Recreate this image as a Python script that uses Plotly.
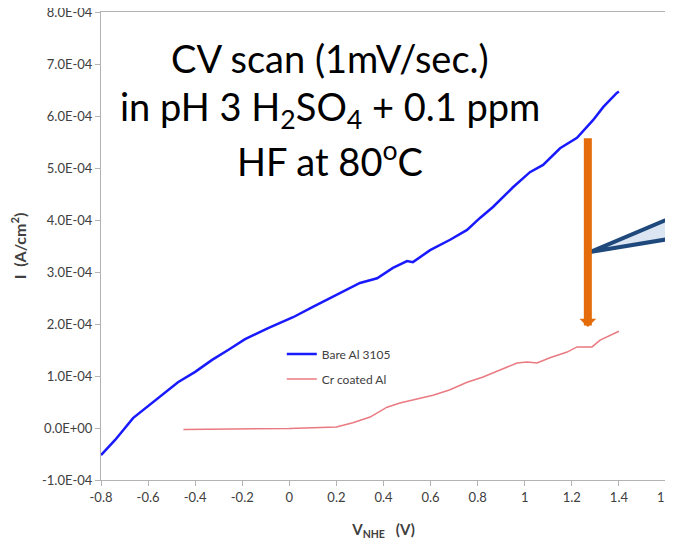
import plotly.graph_objects as go

# ---- data (current in A/cm^2, potential in V vs NHE) ----
bare_v = [-0.80, -0.74, -0.664, -0.583, -0.473, -0.40, -0.328, -0.26, -0.188, -0.09, 0.016,
          0.10, 0.203, 0.30, 0.373, 0.44, 0.50, 0.525, 0.598, 0.683, 0.755, 0.81,
          0.865, 0.95, 1.022, 1.078, 1.15, 1.222, 1.29, 1.333, 1.39, 1.40]
bare_i = [-0.52e-4, -0.23e-4, 0.19e-4, 0.48e-4, 0.88e-4, 1.08e-4, 1.31e-4, 1.50e-4, 1.71e-4, 1.92e-4, 2.13e-4,
          2.33e-4, 2.56e-4, 2.79e-4, 2.88e-4, 3.08e-4, 3.21e-4, 3.19e-4, 3.42e-4, 3.62e-4, 3.81e-4, 4.04e-4,
          4.25e-4, 4.63e-4, 4.92e-4, 5.06e-4, 5.38e-4, 5.58e-4, 5.92e-4, 6.17e-4, 6.44e-4, 6.47e-4]

cr_v = [-0.45, -0.20, 0.00, 0.20, 0.27, 0.343, 0.415, 0.47, 0.555, 0.61, 0.68,
        0.755, 0.823, 0.895, 0.967, 1.01, 1.052, 1.107, 1.18, 1.222, 1.286, 1.32, 1.39, 1.40]
cr_i = [-0.03e-4, -0.02e-4, -0.01e-4, 0.02e-4, 0.10e-4, 0.21e-4, 0.40e-4, 0.48e-4, 0.58e-4, 0.63e-4, 0.73e-4,
        0.88e-4, 0.98e-4, 1.12e-4, 1.25e-4, 1.27e-4, 1.25e-4, 1.35e-4, 1.46e-4, 1.56e-4, 1.56e-4, 1.69e-4, 1.83e-4, 1.86e-4]

series_names = ["Bare Al 3105", "Cr coated Al"]

x_tickvals = [-0.8, -0.6, -0.4, -0.2, 0, 0.2, 0.4, 0.6, 0.8, 1.0, 1.2, 1.4, 1.6]
x_ticktext = ["-0.8", "-0.6", "-0.4", "-0.2", "0", "0.2", "0.4", "0.6", "0.8", "1", "1.2", "1.4", "1.6"]
y_tickvals = [-1e-4, 0, 1e-4, 2e-4, 3e-4, 4e-4, 5e-4, 6e-4, 7e-4, 8e-4]
y_ticktext = ["-1.0E-04", "0.0E+00", "1.0E-04", "2.0E-04", "3.0E-04", "4.0E-04",
              "5.0E-04", "6.0E-04", "7.0E-04", "8.0E-04"]

title_lines = ["CV scan (1mV/sec.)",
               "in pH 3 H<sub>2</sub>SO<sub>4</sub> + 0.1 ppm",
               "HF at 80<sup>o</sup>C"]

# arrow (from bare to coated) in data units
arrow_x = 1.268
arrow_from = 5.6e-4
arrow_to = 1.94e-4

FONT = "Lato"
fig = go.Figure()
fig.add_trace(go.Scatter(x=bare_v, y=bare_i, mode="lines", name=series_names[0],
                         legendgroup="a", line=dict(color="#1a1aff", width=2.5)))
fig.add_trace(go.Scatter(x=cr_v, y=cr_i, mode="lines", name=series_names[1],
                         legendgroup="b", line=dict(color="#ea7a82", width=1.5)))

axis_col = "#b3b3b3"
fig.update_xaxes(range=[-0.8, 1.6], tickvals=x_tickvals, ticktext=x_ticktext,
                 showgrid=False, zeroline=False, showline=True, linecolor=axis_col,
                 linewidth=1, mirror=True, ticks="outside", ticklen=5, tickcolor=axis_col,
                 ticklabeloverflow="allow", automargin=False,
                 tickfont=dict(family=FONT, size=13, color="#404040"),
                 title=dict(text="<b>V<sub>NHE</sub>   (V)</b>", standoff=20,
                            font=dict(family=FONT, size=15, color="#404040")))
fig.update_yaxes(range=[-1e-4, 8e-4], tickvals=y_tickvals, ticktext=y_ticktext,
                 showgrid=False, zeroline=False, showline=True, linecolor=axis_col,
                 linewidth=1, mirror=True, ticks="outside", ticklen=5, tickcolor=axis_col,
                 ticklabeloverflow="allow", automargin=False,
                 tickfont=dict(family=FONT, size=13, color="#404040"),
                 title=dict(text="<b>I  (A/cm<sup>2</sup>)</b>", standoff=16,
                            font=dict(family=FONT, size=16, color="#404040")))

for txt, yy in zip(title_lines, [0.902, 0.792, 0.686]):
    fig.add_annotation(text=txt, xref="paper", yref="paper", x=0.405, y=yy,
                       xanchor="center", yanchor="middle", showarrow=False,
                       font=dict(family=FONT, size=38, color="#000000"))

fig.add_annotation(x=arrow_x, y=arrow_to, ax=arrow_x, ay=arrow_from,
                   xref="x", yref="y", axref="x", ayref="y", text="",
                   showarrow=True, arrowhead=1, arrowsize=0.35, arrowwidth=8,
                   arrowcolor="#e46c0a")

# callout wedge
fig.add_shape(type="path", xref="paper", yref="paper",
              path="M 0.8655,0.487 L 1.03,0.571 L 1.03,0.520 Z",
              fillcolor="#dce6f2", line=dict(color="#1f497d", width=4), layer="above")

fig.update_layout(
    width=673, height=544,
    margin=dict(l=93, r=15, t=4, b=72),
    paper_bgcolor="white", plot_bgcolor="white",
    showlegend=True,
    legend=dict(x=0.32, y=0.30, xanchor="left", yanchor="top",
                bgcolor="rgba(0,0,0,0)", tracegroupgap=6,
                font=dict(family=FONT, size=12, color="#404040")),
)

fig.write_html("out.html")
